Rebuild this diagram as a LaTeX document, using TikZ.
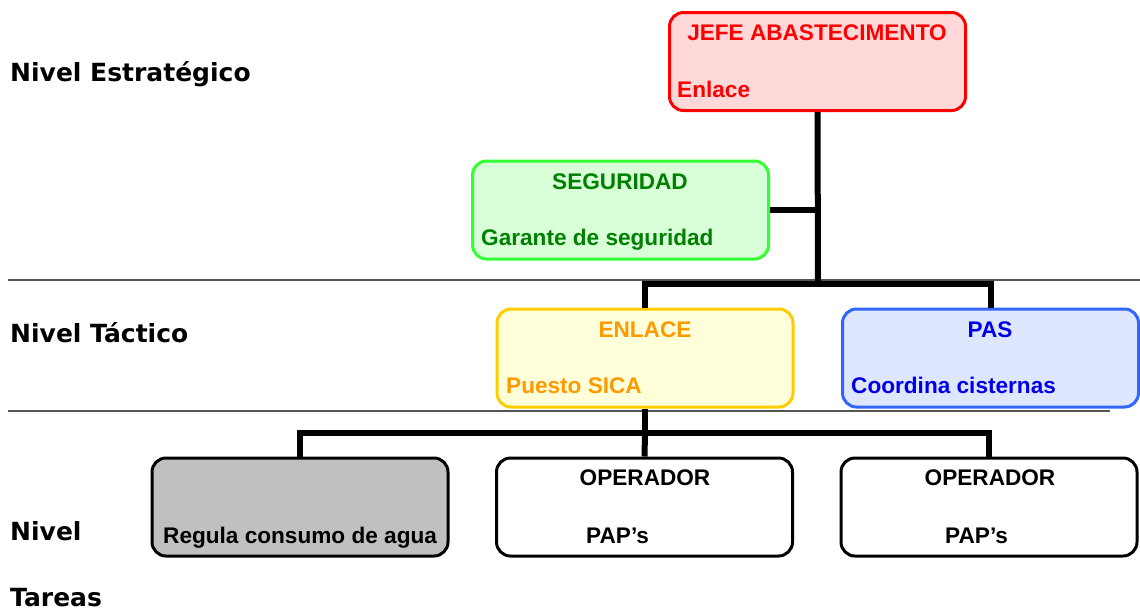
\documentclass[tikz,border=0pt]{standalone}
\usepackage{fontspec}
\setmainfont{Liberation Sans}
\newfontfamily\lblfont{DejaVu Sans}
\definecolor{jefeD}{HTML}{FF0000}
\definecolor{jefeF}{HTML}{FFD9D9}
\definecolor{segD}{HTML}{33FF33}
\definecolor{segF}{HTML}{D9FFD9}
\definecolor{segT}{HTML}{008000}
\definecolor{enlD}{HTML}{FFCC00}
\definecolor{enlF}{HTML}{FFFFD9}
\definecolor{enlT}{HTML}{FF9900}
\definecolor{pasD}{HTML}{3366FF}
\definecolor{pasF}{HTML}{DFE6FF}
\definecolor{pasT}{HTML}{0000E6}
\definecolor{sepC}{HTML}{555555}
\definecolor{grayF}{HTML}{C0C0C0}
\begin{document}
\begin{tikzpicture}[x=1pt,y=-1pt,
  box/.style={draw, rectangle, rounded corners=14pt, line width=3pt, minimum width=296pt, minimum height=98pt, inner sep=0pt},
  btxt/.style={font=\fontsize{22.6}{24}\selectfont\bfseries, inner sep=0pt},
  lbl/.style={font=\lblfont\fontsize{25}{27}\selectfont\bfseries, inner sep=0pt, anchor=base west},
  conn/.style={line width=6pt, black},
  sepline/.style={line width=2pt, sepC}]
\useasboundingbox (0,0) rectangle (1140,611);
% separators
\draw[sepline] (8,280) -- (1140,280);
\draw[sepline] (8,411) -- (1110,411);
% level labels
\node[lbl] (l1) at (10,81) {Nivel Estratégico};
\node[lbl] (l2) at (10,342) {Nivel Táctico};
\node[lbl] (l3) at (10,540) {Nivel};
\node[lbl] (l4) at (10,606) {Tareas};
% boxes
\node[box, draw=jefeD, fill=jefeF] (jefe) at (817.5,61.5) {};
\node[box, draw=segD, fill=segF] (seg) at (620.5,210) {};
\node[box, draw=enlD, fill=enlF] (enl) at (645,358) {};
\node[box, draw=pasD, fill=pasF] (pas) at (990.5,358) {};
\node[box, draw=black, fill=grayF] (reg) at (300,507) {};
\node[box, draw=black, fill=white] (op1) at (644.5,507) {};
\node[box, draw=black, fill=white] (op2) at (989,507) {};
% connectors
\coordinate (j1) at (818,284);
\coordinate (j2) at (645,433);
\draw[conn] (jefe.south) -- (j1);
\draw[conn] (seg.east) -- (jefe.south |- seg.east);
\draw[conn] (enl.north) |- (j1) -| (pas.north);
\draw[conn] (enl.south) -- (j2);
\draw[conn] (reg.north) |- (j2) -| (op2.north);
\draw[conn] (j2) -- (op1.north);
% texts
\node[btxt, text=jefeD, anchor=base] (t1) at (817,40) {JEFE ABASTECIMENTO};
\node[btxt, text=jefeD, anchor=base west] (t2) at (677,97) {Enlace};
\node[btxt, text=segT, anchor=base] (t3) at (620,189) {SEGURIDAD};
\node[btxt, text=segT, anchor=base west] (t4) at (481,245) {Garante de seguridad};
\node[btxt, text=enlT, anchor=base] (t5) at (645,337) {ENLACE};
\node[btxt, text=enlT, anchor=base west] (t6) at (506,393) {Puesto SICA};
\node[btxt, text=pasT, anchor=base] (t7) at (990,337) {PAS};
\node[btxt, text=pasT, anchor=base west] (t8) at (851,393) {Coordina cisternas};
\node[btxt, anchor=base west] (t9) at (163,543) {Regula consumo de agua};
\node[btxt, anchor=base] (t10) at (645,485) {OPERADOR};
\node[btxt, anchor=base west] (t11) at (586,543) {PAP’s};
\node[btxt, anchor=base] (t12) at (990,485) {OPERADOR};
\node[btxt, anchor=base west] (t13) at (945,543) {PAP’s};
\end{tikzpicture}
\end{document}
